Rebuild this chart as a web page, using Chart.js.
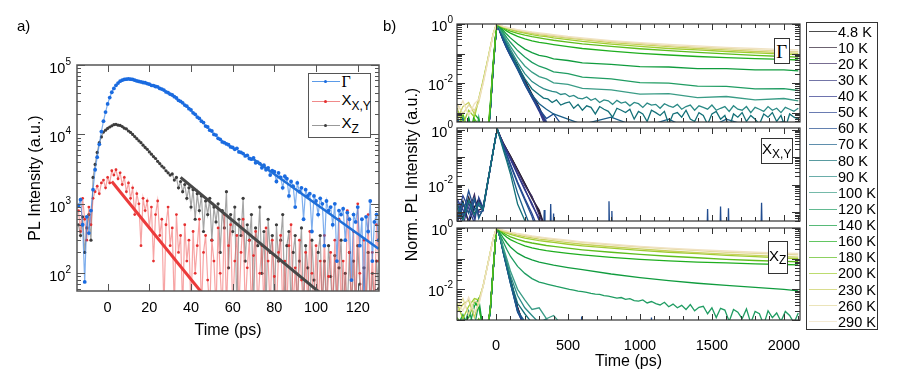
<!DOCTYPE html>
<html>
<head>
<meta charset="utf-8">
<title>PL decay</title>
<script src="https://cdn.jsdelivr.net/npm/chart.js@4.4.1/dist/chart.umd.min.js"></script>
<style>
  body { margin: 0; background: #fff; }
  #page { position: relative; width: 897px; height: 381px; overflow: hidden; font-family: "Liberation Sans", Arial, sans-serif; color: #000; }
  #page canvas { position: absolute; left: 0; top: 0; }
  .txt { position: absolute; white-space: nowrap; line-height: 1; }
  .box { position: absolute; border: 1.3px solid #333; background: #fff; box-sizing: border-box; }
  .tag { display: flex; align-items: center; justify-content: center; font-size: 15px; line-height: 1; }
  .serif { font-family: "Liberation Serif", "DejaVu Serif", serif; }
  .sb { font-size: 12px; position: relative; top: 5px; }
  .ln { position: absolute; height: 1px; width: 28px; }
  .dot { position: absolute; width: 3px; height: 3px; border-radius: 50%; }
</style>
</head>
<body>
<div id="page">
  <canvas id="chartA" width="897" height="381"></canvas>
  <canvas id="chartB1" width="897" height="381"></canvas>
  <canvas id="chartB2" width="897" height="381"></canvas>
  <canvas id="chartB3" width="897" height="381"></canvas>

  <div class="txt" style="left:17px;top:18px;font-size:15px">a)</div>
  <div class="txt" style="left:383px;top:18px;font-size:15px">b)</div>

  <div id="legendA" class="box" style="left:308px;top:73px;width:63px;height:65px;border-width:1.5px;border-color:#555">
    <div class="ln" style="left:2.5px;top:7.2px;background:#5b9be8"></div>
    <div class="dot" style="left:15px;top:6.2px;background:#1a6be0"></div>
    <div class="txt serif" style="left:32.5px;top:0px;font-size:16px">Γ</div>
    <div class="ln" style="left:2.5px;top:27.2px;background:#f08a8a"></div>
    <div class="dot" style="left:15px;top:26.2px;background:#e53030"></div>
    <div class="txt" style="left:32.5px;top:18.2px;font-size:15px">X<span class="sb">X,Y</span></div>
    <div class="ln" style="left:2.5px;top:50.5px;background:#999"></div>
    <div class="dot" style="left:15px;top:49.5px;background:#3c3c3c"></div>
    <div class="txt" style="left:32.5px;top:41.2px;font-size:15px">X<span class="sb">Z</span></div>
  </div>

  <div class="box tag serif" style="left:774px;top:38px;width:15.5px;height:26px;font-size:19px">Γ</div>
  <div class="box tag" style="left:761px;top:138px;width:31.5px;height:25.5px;padding-bottom:4px">X<span class="sb">X,Y</span></div>
  <div class="box tag" style="left:768px;top:241px;width:19.5px;height:32.5px;padding-bottom:4px">X<span class="sb">Z</span></div>

  <div id="legendB" class="box" style="left:806px;top:22px;width:72px;height:308px;border-width:1px"></div>
</div>

<script>
// ---------- panel a: time-resolved PL, Γ / X_X,Y / X_Z ----------
const tA = [
  -14,-13,-12,-11,-10,-9,-8,-7,-6,-5,
  -4,-3,-2,-1,0,1,2,3,4,5,
  6,7,8,9,10,11,12,13,14,15,
  16,17,18,19,20,21,22,23,24,25,
  26,27,28,29,30,31,32,33,34,35,
  36,37,38,39,40,41,42,43,44,45,
  46,47,48,49,50,51,52,53,54,55,
  56,57,58,59,60,61,62,63,64,65,
  66,67,68,69,70,71,72,73,74,75,
  76,77,78,79,80,81,82,83,84,85,
  86,87,88,89,90,91,92,93,94,95,
  96,97,98,99,100,101,102,103,104,105,
  106,107,108,109,110,111,112,113,114,115,
  116,117,118,119,120,121,122,123,124,125,
  126,127,128,129,130
];
const gammaA = [
  950,1150,500,75,650,380,800,1600,3100,4700,
  7200,11000,15500,21000,27500,34000,40500,46000,51000,55000,
  58500,60500,62000,62500,63000,62500,62000,60500,59000,58000,
  57000,56000,55500,54000,53000,51000,50500,49000,48500,46000,
  45000,43500,41000,40000,38000,37000,35000,33500,31000,30000,
  28500,26500,25500,23500,22500,20500,19500,17800,17000,15500,
  14800,13200,12800,11500,11200,10000,9800,8800,8500,7800,
  7600,7300,7100,6600,6500,6100,6300,5600,5500,5300,
  4900,5000,4500,4400,4600,3900,4000,3800,3300,3600,
  3100,3300,2600,3000,2900,2100,2800,2400,1700,2500,
  2300,1300,2100,1800,900,2000,1500,1700,600,1600,
  1300,1400,400,1300,1100,700,1200,1000,250,1100,
  800,900,500,1000,150,800,700,850,300,750,
  600,80,700,550,900,250,600,30,650,400,
  1100,150,550,700,300
];
const xxyA = [
  800,400,1200,600,300,900,500,1200,1500,1800,
  1400,2000,2200,1700,2400,2000,3000,2600,3100,2300,
  2800,1900,2400,1500,2000,1200,1700,700,1400,1000,
  250,1200,800,1100,450,900,150,700,1100,350,
  600,30,500,900,250,450,30,700,200,350,
  30,500,150,300,30,400,100,250,600,30,
  200,350,80,30,300,150,30,450,100,30,
  700,30,250,500,30,150,350,30,200,600,
  30,120,300,30,180,400,30,100,250,30,
  450,150,30,300,90,30,200,350,30,150,
  30,250,500,30,120,30,300,80,30,200,
  30,400,100,30,250,30,150,30,350,30,
  90,200,30,300,30,600,30,150,30,800,
  200,30,400,30,1000,100,30,300,30,700,
  30,200,30,500,150
];
const xzA = [
  500,350,650,200,450,700,300,2400,3700,5500,
  7600,9200,10800,11500,12200,12800,13300,13800,14000,13600,
  13500,13000,12300,12000,11200,10700,10000,9300,8700,8100,
  7600,7000,6500,6100,5600,5200,4800,4500,4100,3800,
  3500,3300,3000,2800,2600,2700,2200,2400,1700,2100,
  1500,1900,1200,1700,900,1600,600,1400,800,1300,
  400,1100,700,1200,300,900,550,1000,200,800,
  450,1500,120,700,400,900,30,600,350,1200,
  150,500,300,700,30,450,250,900,100,400,
  30,600,200,350,30,500,150,300,700,30,
  250,400,30,200,350,30,150,450,30,250,
  120,30,300,80,30,200,350,30,150,30,
  250,90,30,180,30,120,300,30,100,30,
  200,30,150,30,250,70,30,120,30,200,
  30,100,30,150,60
];
// mono-exponential fits (start / end)
const fitGammaT = [70, 130], fitGammaV = [4400, 225];
const fitXYT = [2, 47],      fitXYV = [2100, 45];
const fitZT = [35, 102],     fitZV = [2400, 52];
const xTicksA = [0, 20, 40, 60, 80, 100, 120];
const yExpA = [2, 3, 4, 5];

// ---------- panel b: normalised decays vs temperature ----------
const temps = ['4.8 K','10 K','20 K','30 K','40 K','50 K','60 K','70 K','80 K','90 K',
               '100 K','120 K','140 K','160 K','180 K','200 K','230 K','260 K','290 K'];
const tempColors = ['#000000','#2e1f33','#3d2f62','#373a82','#30378c','#2b4492','#214c8f','#1b5f8a','#137078','#2b8a86',
                    '#3a9c86','#1f9c62','#109c3e','#1fae1f','#5dbd1c','#9fcd32','#c9cf5e','#e3d99b','#f0e2c2'];
const tb = [-270,-230,-190,-150,-120,-90,-60,-40,-20,0,10,30,50,75,100,150,200,250,300,350,400,500,600,800,1000,1200,1400,1600,1800,2000,2100];
const tTail = [300,330,360,390,420,450,480,510,540,570,600,630,660,690,720,750,780,810,840,870,
               900,930,960,990,1020,1050,1080,1110,1140,1170,1200,1230,1260,1290,1320,1350,1380,1410,1440,1470,
               1500,1530,1560,1590,1620,1650,1680,1710,1740,1770,1800,1830,1860,1890,1920,1950,1980,2010,2040,2070,2100];
const xTicksB = [0, 500, 1000, 1500, 2000];
const xMinorB = [-200,-100,100,200,300,400,600,700,800,900,1100,1200,1300,1400,1600,1700,1800,1900,2100];

// Γ exciton
const G4_8 = [1e-4,1e-4,1e-4,1e-4,1e-4,1e-4,1e-4,0.0012,0.033,0.52,1,0.55,0.324,0.182,0.11,0.0398,0.0126,0.0042,0.0015,0.0004,1e-4];
const G10 = [1e-4,1e-4,1e-4,1e-4,1e-4,1e-4,1e-4,0.0011,0.032,0.51,1,0.537,0.316,0.174,0.105,0.037,0.012,0.004,0.0014,0.0004,1e-4];
const G20 = [1e-4,1e-4,1e-4,1e-4,1e-4,1e-4,1e-4,0.0012,0.033,0.5,1,0.525,0.302,0.166,0.1,0.0355,0.0112,0.0038,0.0013,0.0004,1e-4];
const G30 = [1e-4,1e-4,1e-4,1e-4,1e-4,1e-4,1e-4,0.0011,0.031,0.5,1,0.513,0.288,0.158,0.093,0.033,0.0105,0.0035,0.0013,0.0004,1e-4];
const G40 = [1e-4,1e-4,1e-4,1e-4,1e-4,1e-4,1e-4,0.0012,0.032,0.5,1,0.501,0.282,0.151,0.089,0.0316,0.0089,0.0032,0.0011,0.0003,1e-4];
const G50 = [1e-4,1e-4,1e-4,1e-4,1e-4,1e-4,1e-4,0.0012,0.033,0.51,1,0.501,0.282,0.148,0.085,0.030,0.010,0.0035,0.0014,0.0005,1e-4];
const G60 = [0.0007,1e-4,1e-4,1e-4,1e-4,1e-4,1e-4,0.0012,0.033,0.51,1,0.5,0.275,0.145,0.083,0.0282,0.0089,0.0032,0.0013,0.00063,0.0009,0.0002];
const G70 = [0.0008,1e-4,0.0006,1e-4,1e-4,1e-4,1e-4,0.0012,0.033,0.5,1,0.562,0.331,0.178,0.1,0.0316,0.01,0.004,0.002,0.0013,0.0009,0.0006,0.0004,0.0007,0.0003,0.0006,0.0002,0.0006,0.0003,0.0005,0.0003];
const G80 = [1e-4,0.0007,1e-4,1e-4,1e-4,1e-4,1e-4,0.0012,0.034,0.52,1,0.603,0.38,0.209,0.115,0.038,0.0141,0.0063];
const G80tail = [0.0040,0.0031,0.0029,0.0022,0.0027,0.0018,0.0021,0.0023,0.0014,0.0019,
  0.0012,0.0017,0.0015,0.0009,0.0016,0.0013,0.0011,0.0007,0.0014,0.0012,
  0.0010,0.0013,0.0006,0.0011,0.0009,0.0005,0.0012,0.0010,0.0008,0.0011,
  0.0004,0.0009,0.0010,0.0007,0.0012,0.0006,0.0005,0.0010,0.0008,0.0004,
  0.0009,0.0011,0.0006,0.0008,0.0003,0.0009,0.0007,0.0010,0.0005,0.0008,
  0.0006,0.0004,0.0009,0.0007,0.0010,0.0005,0.0008,0.0003,0.0009,0.0007,0.0006];
const G90 = [1e-4,1e-4,1e-4,0.0006,1e-4,1e-4,1e-4,0.0013,0.036,0.54,1,0.631,0.417,0.24,0.138,0.0501,0.0209,0.0112];
const G90tail = [0.0078,0.0065,0.0058,0.0052,0.0049,0.0041,0.0044,0.0035,0.0038,0.0031,
  0.0029,0.0034,0.0026,0.0030,0.0022,0.0027,0.0025,0.0019,0.0026,0.0021,
  0.0023,0.0017,0.0022,0.0020,0.0015,0.0021,0.0018,0.0019,0.0014,0.0020,
  0.0017,0.0015,0.0019,0.0013,0.0016,0.0018,0.0012,0.0017,0.0015,0.0013,
  0.0018,0.0012,0.0014,0.0016,0.0011,0.0017,0.0013,0.0012,0.0016,0.0010,
  0.0015,0.0013,0.0011,0.0016,0.0012,0.0014,0.0010,0.0015,0.0013,0.0011,0.0014];
const G100 = [1e-4,1e-4,1e-4,1e-4,0.0007,1e-4,1e-4,0.0014,0.037,0.55,1,0.661,0.457,0.275,0.174,0.0759,0.038,0.0234,0.0166,0.0138,0.0102,0.0091,0.0066,0.0059,0.0042,0.0044,0.0032,0.0035,0.0027,0.003,0.0025];
const G120 = [1e-4,1e-4,0.0006,1e-4,1e-4,1e-4,1e-4,0.0014,0.038,0.55,1,0.708,0.525,0.347,0.24,0.126,0.0759,0.0501,0.0372,0.031,0.024,0.021,0.016,0.0138,0.0104,0.0099,0.0079,0.0077,0.0064,0.0065,0.0056];
const G140 = [1e-4,1e-4,0.0007,1e-4,1e-4,1e-4,1e-4,0.0015,0.04,0.56,1,0.759,0.603,0.447,0.339,0.209,0.141,0.107,0.0871,0.078,0.066,0.058,0.048,0.043,0.036,0.035,0.031,0.031,0.028,0.028,0.026];
const G160 = [1e-4,0.0004,1e-4,0.0009,0.0006,1e-4,1e-4,0.0017,0.042,0.58,1,0.813,0.692,0.575,0.49,0.38,0.316,0.269,0.24,0.219,0.2,0.17,0.148,0.12,0.102,0.0891,0.0794,0.0724,0.0676,0.0631,0.0603];
const G180 = [0.0003,0.0009,0.0002,0.0006,0.0004,0.0003,0.0002,0.0018,0.045,0.6,1,0.832,0.741,0.646,0.575,0.479,0.417,0.372,0.339,0.309,0.282,0.245,0.214,0.174,0.145,0.126,0.11,0.0977,0.0871,0.0794,0.0759];
const G200 = [0.0014,0.0004,0.0012,0.0007,0.0028,0.012,0.055,0.16,0.46,0.9,1,0.851,0.776,0.708,0.646,0.55,0.49,0.437,0.398,0.372,0.339,0.295,0.257,0.209,0.174,0.148,0.132,0.117,0.105,0.0955,0.0912];
const G230 = [0.0006,0.0016,0.0022,0.0009,0.003,0.011,0.052,0.15,0.45,0.9,1,0.871,0.794,0.741,0.676,0.589,0.525,0.479,0.437,0.407,0.38,0.331,0.295,0.234,0.2,0.17,0.148,0.132,0.117,0.107,0.102];
const G260 = [0.002,0.0009,0.0018,0.0012,0.0022,0.01,0.05,0.15,0.44,0.9,1,0.891,0.813,0.759,0.708,0.617,0.562,0.513,0.468,0.437,0.407,0.355,0.316,0.257,0.219,0.186,0.166,0.148,0.132,0.12,0.115];
const G290 = [0.0011,0.0025,0.0008,0.002,0.0028,0.009,0.045,0.14,0.42,0.88,1,0.912,0.832,0.776,0.724,0.646,0.589,0.537,0.501,0.468,0.437,0.38,0.339,0.275,0.234,0.204,0.182,0.162,0.148,0.135,0.132];

// X_X,Y exciton (only low temperatures visible)
const X4_8 = [0.0008,0.0025,0.0004,0.0015,0.003,0.0013,0.01,0.04,0.16,0.63,1,0.562,0.331,0.191,0.112,0.0355,0.0112,0.0035,0.001,0.0002];
const X10 = [0.002,0.0006,0.0035,0.0009,0.0012,0.0014,0.011,0.042,0.165,0.64,1,0.55,0.32,0.185,0.108,0.034,0.0105,0.0032,0.0012,0.0002];
const X20 = [0.0004,0.0018,0.001,0.0045,0.0007,0.0012,0.0095,0.039,0.158,0.62,1,0.54,0.31,0.18,0.102,0.032,0.0095,0.0038,0.0008,0.0002];
const X30 = [0.0015,0.0003,0.0022,0.0006,0.0025,0.0013,0.0105,0.041,0.162,0.63,1,0.537,0.302,0.166,0.089,0.0251,0.0071,0.0018,0.0006,0.0001];
const X40 = [0.003,0.0012,0.0005,0.0028,0.001,0.0011,0.01,0.04,0.16,0.63,1,0.53,0.295,0.16,0.085,0.023,0.0065,0.0021,0.0005,0.0001];
const X50 = [0.0006,0.004,0.0014,0.0004,0.0035,0.0015,0.0098,0.04,0.158,0.62,1,0.501,0.263,0.126,0.0562,0.0126,0.0032,0.0009,0.0002];
const X60 = [0.0025,0.0008,0.006,0.0012,0.0018,0.0012,0.0102,0.041,0.16,0.63,1,0.49,0.25,0.12,0.052,0.011,0.0028,0.0007,0.0001];
const X70 = [0.0005,0.0022,0.0009,0.0032,0.0006,0.0014,0.011,0.042,0.163,0.64,1,0.468,0.224,0.0891,0.0355,0.005,0.001,0.0002];
const X80 = [0.0018,0.0005,0.0028,0.0008,0.0022,0.0013,0.0105,0.041,0.16,0.63,1,0.437,0.191,0.0708,0.0251,0.002,0.0005,0.0001];
const spikeXT = [330,335,340,375,380,385,395,400,405,780,785,790,800,805,810,1465,1470,1475,1555,1560,1565,1610,1615,1620,1840,1845,1850];
const spikeXV = [1e-4,0.0012,1e-4,1e-4,0.002,1e-4,1e-4,0.0009,1e-4,1e-4,0.0025,1e-4,1e-4,0.0011,1e-4,1e-4,0.0013,1e-4,1e-4,0.0016,1e-4,1e-4,0.0014,1e-4,1e-4,0.0022,1e-4];

// X_Z exciton
const Z4_8 = [0.0005,0.0004,0.0007,0.0005,0.0004,0.0005,0.0004,0.002,0.04,0.63,1,0.48,0.19,0.066,0.022,0.0026,0.0005];
const Z10 = [0.0004,0.0006,0.0004,0.0005,0.0005,0.0004,0.0005,0.0021,0.041,0.63,1,0.47,0.185,0.063,0.021,0.0025,0.0006];
const Z20 = [0.0005,0.0005,0.0006,0.0004,0.0005,0.0005,0.0004,0.002,0.04,0.62,1,0.47,0.18,0.06,0.02,0.0024,0.0005];
const Z30 = [0.0004,0.0005,0.0005,0.0006,0.0004,0.0004,0.0005,0.0021,0.041,0.63,1,0.46,0.175,0.058,0.019,0.0022,0.0006];
const Z40 = [0.0006,0.0004,0.0005,0.0005,0.0006,0.0005,0.0004,0.002,0.04,0.62,1,0.46,0.17,0.056,0.018,0.0021,0.0005];
const Z50 = [0.0005,0.0006,0.0004,0.0005,0.0005,0.0004,0.0005,0.0021,0.041,0.63,1,0.45,0.165,0.052,0.017,0.0019,0.0006];
const Z60 = [0.0004,0.0005,0.0006,0.0005,0.0004,0.0005,0.0006,0.002,0.04,0.62,1,0.44,0.16,0.05,0.016,0.0018,0.0007];
const Z70 = [0.0005,0.0004,0.0005,0.0006,0.0005,0.0004,0.0005,0.0021,0.041,0.63,1,0.447,0.158,0.05,0.0158,0.002,0.0009,0.0004];
const Z80 = [0.0006,0.0005,0.0004,0.0005,0.0006,0.0005,0.0004,0.002,0.04,0.62,1,0.447,0.178,0.063,0.02,0.0035,0.0016,0.0008,0.0004];
const Z90 = [0.0005,0.0004,0.0006,0.0005,0.0004,0.0005,0.0005,0.0021,0.041,0.63,1,0.479,0.209,0.0794,0.0282,0.0063,0.0025,0.0014,0.0008,0.0011,0.0004];
const Z100 = [0.0005,0.0012,0.0004,0.0008,0.0004,0.0003,0.0004,0.002,0.04,0.62,1,0.501,0.24,0.1,0.0398,0.01,0.0045,0.0022,0.0025,0.0011,0.0014,0.0004];
const Z120 = [0.0009,0.0005,0.002,0.0006,0.0035,0.0004,0.0005,0.002,0.04,0.62,1,0.562,0.355,0.2,0.12,0.0562,0.0331,0.0224];
const Z120tail = [0.0172,0.0158,0.0146,0.0135,0.0124,0.0116,0.0108,0.0100,0.0094,0.0088,
  0.0084,0.0080,0.0074,0.0070,0.0068,0.0062,0.0060,0.0056,0.0052,0.0054,
  0.0047,0.0050,0.0043,0.0041,0.0045,0.0036,0.0040,0.0034,0.0031,0.0038,
  0.0027,0.0033,0.0025,0.0030,0.0022,0.0032,0.0020,0.0026,0.0028,0.0016,
  0.0025,0.0012,0.0024,0.0021,0.0009,0.0022,0.0018,0.0011,0.0023,0.0008,
  0.0019,0.0016,0.0007,0.0020,0.0012,0.0017,0.0009,0.0019,0.0014,0.0008,0.0017];
const Z140 = [0.0006,0.0015,0.0005,0.0028,0.005,0.0005,0.0006,0.0021,0.042,0.64,1,0.661,0.479,0.331,0.24,0.151,0.112,0.0912,0.0776,0.0692,0.0617,0.0513,0.0437,0.0316,0.024,0.0191,0.0158,0.0135,0.0115,0.01,0.0089];
const Z160 = [0.0005,0.0008,0.0012,0.004,0.0025,0.0006,0.0005,0.0022,0.043,0.65,1,0.759,0.631,0.501,0.417,0.324,0.263,0.224,0.2,0.182,0.17,0.148,0.132,0.11,0.0955,0.0851,0.0776,0.0724,0.0676,0.0646,0.0631];
const Z180 = [0.0012,0.0006,0.0009,0.0007,0.0011,0.0006,0.0006,0.0023,0.045,0.66,1,0.813,0.692,0.589,0.513,0.427,0.363,0.324,0.295,0.269,0.251,0.219,0.195,0.162,0.138,0.12,0.107,0.0955,0.0871,0.0813,0.0794];
const Z200 = [0.0035,0.0011,0.0028,0.005,0.0045,0.0123,0.056,0.158,0.447,0.89,1,0.851,0.759,0.676,0.617,0.537,0.468,0.427,0.389,0.363,0.339,0.295,0.263,0.219,0.186,0.162,0.145,0.129,0.117,0.105,0.1];
const Z230 = [0.0018,0.0032,0.0045,0.0012,0.004,0.013,0.058,0.16,0.45,0.89,1,0.871,0.794,0.724,0.676,0.589,0.525,0.479,0.437,0.407,0.38,0.331,0.295,0.245,0.209,0.178,0.158,0.141,0.129,0.117,0.112];
const Z260 = [0.0025,0.005,0.0015,0.0042,0.0035,0.0125,0.055,0.155,0.44,0.88,1,0.891,0.832,0.776,0.724,0.646,0.575,0.525,0.49,0.457,0.427,0.38,0.339,0.282,0.24,0.209,0.182,0.162,0.148,0.138,0.132];
const Z290 = [0.004,0.002,0.0055,0.0018,0.003,0.012,0.054,0.152,0.44,0.88,1,0.912,0.851,0.794,0.741,0.661,0.603,0.55,0.513,0.479,0.447,0.398,0.355,0.295,0.251,0.219,0.195,0.178,0.162,0.151,0.148];
const spikeZT = [590,595,600,1075,1080,1085];
const spikeZV = [1e-4,0.0013,1e-4,1e-4,0.0012,1e-4];

// ---------- helpers ----------
const FONT = '"Liberation Sans", Arial, sans-serif';

function pts(xs, ys) {
  return ys.map((v, i) => ({ x: xs[i], y: v }));
}

// frame, inward ticks on all sides, and 10^n labels
const framePlugin = {
  id: 'frame',
  afterDatasetsDraw(chart, args, o) {
    const { ctx, chartArea: a } = chart;
    const x = chart.scales.x, y = chart.scales.y;
    ctx.save();
    ctx.strokeStyle = o.color;
    ctx.lineWidth = 1;
    ctx.beginPath();
    const xTick = (v, len) => {
      const px = Math.round(x.getPixelForValue(v)) + 0.5;
      if (px < a.left || px > a.right) return;
      ctx.moveTo(px, a.bottom); ctx.lineTo(px, a.bottom - len);
      ctx.moveTo(px, a.top); ctx.lineTo(px, a.top + len);
    };
    o.xMajor.forEach(v => xTick(v, o.xLen));
    (o.xMinor || []).forEach(v => xTick(v, o.xMinorLen));
    const e0 = Math.floor(Math.log10(y.min)), e1 = Math.ceil(Math.log10(y.max));
    for (let e = e0; e <= e1; e++) {
      for (let m = 1; m < 10; m++) {
        const v = m * Math.pow(10, e);
        if (v < y.min || v > y.max) continue;
        const py = Math.round(y.getPixelForValue(v)) + 0.5;
        const len = m === 1 ? o.yLen : o.yMinorLen;
        ctx.moveTo(a.left, py); ctx.lineTo(a.left + len, py);
        ctx.moveTo(a.right, py); ctx.lineTo(a.right - len, py);
      }
    }
    ctx.stroke();
    ctx.lineWidth = o.frameWidth;
    ctx.strokeRect(a.left, a.top, a.right - a.left, a.bottom - a.top);

    ctx.fillStyle = '#000';
    ctx.textAlign = 'right';
    ctx.textBaseline = 'middle';
    o.yExp.forEach(e => {
      const py = y.getPixelForValue(Math.pow(10, e));
      const xr = a.left - o.gap;
      ctx.font = '10px ' + FONT;
      const ew = ctx.measureText(String(e)).width;
      ctx.fillText(String(e), xr, py - o.expRise);
      ctx.font = '14.5px ' + FONT;
      ctx.fillText('10', xr - ew, py + o.baseDrop);
    });
    ctx.restore();
  }
};

function xScale(opt) {
  return {
    type: 'linear', min: opt.min, max: opt.max,
    afterFit: s => { s.height = opt.height; },
    afterBuildTicks: s => { s.ticks = opt.ticks.map(v => ({ value: v })); },
    grid: { display: false, drawTicks: false },
    border: { display: false },
    ticks: { display: opt.labels, padding: opt.pad, color: '#000', maxRotation: 0, autoSkip: false,
             font: { family: FONT, size: 14.5 }, callback: v => String(v) },
    title: { display: !!opt.title, text: opt.title, color: '#000', font: { family: FONT, size: 16 }, padding: { top: 4, bottom: 4 } }
  };
}

function yScale(opt) {
  return {
    type: 'logarithmic', min: opt.min, max: opt.max,
    afterFit: s => { s.width = opt.width; },
    grid: { display: false, drawTicks: false },
    border: { display: false },
    ticks: { display: false },
    title: { display: !!opt.title, text: opt.title, color: '#000', font: { family: FONT, size: 16 }, padding: { top: 4, bottom: 4 } }
  };
}

// ---------- panel a ----------
function seriesA(ys, lineCol, ptCol, order, r) {
  return { data: pts(tA, ys), borderColor: lineCol, borderWidth: 1.2, pointRadius: r, pointBorderWidth: 0,
           pointBackgroundColor: ptCol, order: order, clip: 0 };
}
function fitA(ts, vs, col, w) {
  return { data: pts(ts, vs), borderColor: col, borderWidth: w, pointRadius: 0, order: 0, clip: 0 };
}

new Chart(document.getElementById('chartA'), {
  type: 'line',
  data: {
    datasets: [
      fitA(fitXYT, fitXYV, '#ec3b3b', 3),
      fitA(fitZT, fitZV, '#474747', 3),
      fitA(fitGammaT, fitGammaV, '#1f6fd8', 2.5),
      seriesA(gammaA, 'rgba(40,120,225,0.6)', '#1a6be0', 1, 1.9),
      seriesA(xxyA, 'rgba(240,90,90,0.55)', '#e53030', 2, 1.4),
      seriesA(xzA, 'rgba(105,105,105,0.6)', '#3c3c3c', 3, 1.6)
    ]
  },
  options: {
    responsive: false, animation: false, devicePixelRatio: 1,
    layout: { padding: { left: 22, top: 65, right: 518, bottom: 37 } },
    plugins: {
      legend: { display: false }, tooltip: { enabled: false },
      frame: { color: '#555', frameWidth: 1.5, xMajor: xTicksA, xLen: 7, yLen: 8, yMinorLen: 4,
               yExp: yExpA, gap: 6, expRise: 3, baseDrop: 4 }
    },
    scales: {
      x: xScale({ min: -14.7, max: 130.2, height: 53, ticks: xTicksA, labels: true, pad: 8, title: 'Time (ps)' }),
      y: yScale({ min: 55.6, max: 1e5, width: 55, title: 'PL Intensity (a.u.)' })
    }
  },
  plugins: [framePlugin]
});

// ---------- panel b ----------
function curve(data, k) {
  return { data: data, borderColor: tempColors[k], borderWidth: 1.3, pointRadius: 0, order: 18 - k, clip: 0 };
}

const gammaCurves = [
  pts(tb, G4_8), pts(tb, G10), pts(tb, G20), pts(tb, G30), pts(tb, G40), pts(tb, G50), pts(tb, G60), pts(tb, G70),
  pts(tb, G80).concat(pts(tTail, G80tail)), pts(tb, G90).concat(pts(tTail, G90tail)),
  pts(tb, G100), pts(tb, G120), pts(tb, G140), pts(tb, G160), pts(tb, G180),
  pts(tb, G200), pts(tb, G230), pts(tb, G260), pts(tb, G290)
];
const xxyCurves = [
  pts(tb, X4_8), pts(tb, X10), pts(tb, X20), pts(tb, X30), pts(tb, X40),
  pts(tb, X50), pts(tb, X60), pts(tb, X70), pts(tb, X80)
];
const xzCurves = [
  pts(tb, Z4_8), pts(tb, Z10), pts(tb, Z20), pts(tb, Z30), pts(tb, Z40), pts(tb, Z50), pts(tb, Z60), pts(tb, Z70),
  pts(tb, Z80), pts(tb, Z90), pts(tb, Z100), pts(tb, Z120).concat(pts(tTail, Z120tail)),
  pts(tb, Z140), pts(tb, Z160), pts(tb, Z180), pts(tb, Z200), pts(tb, Z230), pts(tb, Z260), pts(tb, Z290)
];

function panelB(id, sets, extra, o) {
  const ds = sets.map((d, k) => curve(d, k));
  if (extra) ds.push(extra);
  new Chart(document.getElementById(id), {
    type: 'line',
    data: { datasets: ds },
    options: {
      responsive: false, animation: false, devicePixelRatio: 1,
      layout: { padding: o.pad },
      plugins: {
        legend: { display: false }, tooltip: { enabled: false },
        frame: { color: '#333', frameWidth: 1.2, xMajor: xTicksB, xMinor: xMinorB, xLen: 6, xMinorLen: 4,
                 yLen: 8, yMinorLen: 5, yExp: [0, -2], gap: 4, expRise: 4, baseDrop: 3 }
      },
      scales: {
        x: xScale({ min: -271, max: 2112, height: o.xh, ticks: xTicksB, labels: o.labels, pad: 17, title: o.xTitle }),
        y: yScale({ min: o.ymin, max: o.ymax, width: o.yw, title: o.yTitle })
      }
    },
    plugins: [framePlugin]
  });
}

panelB('chartB1', gammaCurves, null,
  { pad: { left: 380, top: 24, right: 97, bottom: 259 }, xh: 0, labels: false, yw: 77, ymin: 4.8e-4, ymax: 1 });
panelB('chartB2', xxyCurves,
  { data: pts(spikeXT, spikeXV), borderColor: tempColors[6], borderWidth: 1.3, pointRadius: 0, order: 20, clip: 0 },
  { pad: { left: 399, top: 128, right: 97, bottom: 160 }, xh: 0, labels: false, yw: 58, ymin: 4.8e-4, ymax: 1.15,
    yTitle: 'Norm. PL Intensity (a.u.)' });
panelB('chartB3', xzCurves,
  { data: pts(spikeZT, spikeZV), borderColor: tempColors[6], borderWidth: 1.3, pointRadius: 0, order: 20, clip: 0 },
  { pad: { left: 380, top: 228, right: 97, bottom: 6 }, xh: 55, labels: true, yw: 77, ymin: 1e-3, ymax: 1,
    xTitle: 'Time (ps)' });

// temperature legend (thin sample lines look lighter, as in the original)
const legB = document.getElementById('legendB');
temps.forEach((t, i) => {
  const cy = 8.7 + i * 16.12;
  legB.insertAdjacentHTML('beforeend',
    '<div class="ln" style="left:2px;top:' + (cy - 0.5) + 'px;opacity:0.7;background:' + tempColors[i] + '"></div>' +
    '<div class="txt" style="left:31px;top:' + (cy - 7.1) + 'px;font-size:14.5px">' + t + '</div>');
});
</script>
</body>
</html>
